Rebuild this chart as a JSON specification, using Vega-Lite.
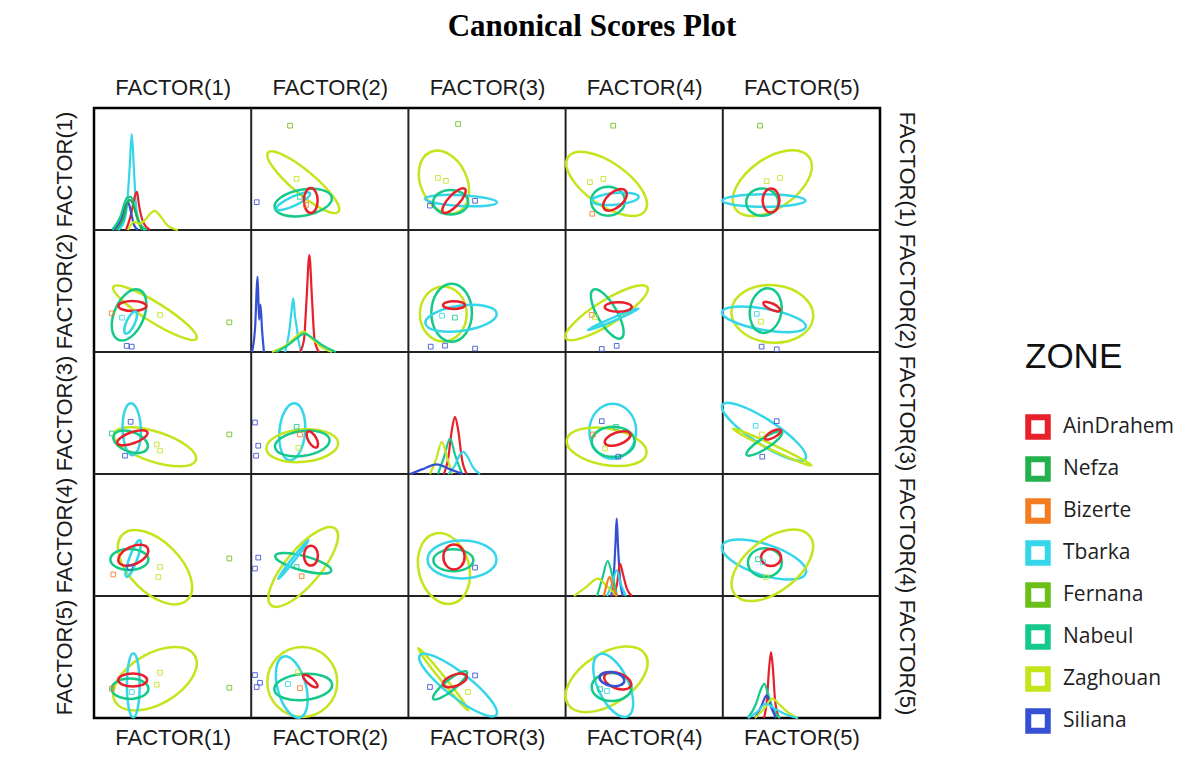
{
  "$schema": "https://vega.github.io/schema/vega-lite/v6.json",
  "width": 786,
  "height": 610,
  "autosize": {"type": "none"},
  "padding": {"left": 94, "top": 108, "right": 307, "bottom": 40},
  "background": "white",
  "title": {"text": "Canonical Scores Plot", "font": "Liberation Serif", "fontSize": 31, "fontWeight": "bold", "color": "#000000", "anchor": "middle", "frame": "group", "dx": 105, "offset": 33},
  "datasets": {
    "grid": [{"v": 1}, {"v": 2}, {"v": 3}, {"v": 4}],
    "dens": [
      {"z": "Tbarka", "g": "11", "x": 0.153, "y": 1.0}, {"z": "Tbarka", "g": "11", "x": 0.191, "y": 0.933}, {"z": "Tbarka", "g": "11", "x": 0.21, "y": 0.794}, {"z": "Tbarka", "g": "11", "x": 0.226, "y": 0.507}, {"z": "Tbarka", "g": "11", "x": 0.24, "y": 0.213}, {"z": "Tbarka", "g": "11", "x": 0.254, "y": 0.507}, {"z": "Tbarka", "g": "11", "x": 0.267, "y": 0.794}, {"z": "Tbarka", "g": "11", "x": 0.286, "y": 0.933}, {"z": "Tbarka", "g": "11", "x": 0.324, "y": 1.0},
      {"z": "AinDrahem", "g": "11", "x": 0.204, "y": 1.0}, {"z": "AinDrahem", "g": "11", "x": 0.235, "y": 0.876}, {"z": "AinDrahem", "g": "11", "x": 0.261, "y": 0.72}, {"z": "AinDrahem", "g": "11", "x": 0.274, "y": 0.687}, {"z": "AinDrahem", "g": "11", "x": 0.286, "y": 0.794}, {"z": "AinDrahem", "g": "11", "x": 0.312, "y": 0.933}, {"z": "AinDrahem", "g": "11", "x": 0.356, "y": 1.0},
      {"z": "Siliana", "g": "11", "x": 0.127, "y": 1.0}, {"z": "Siliana", "g": "11", "x": 0.172, "y": 0.917}, {"z": "Siliana", "g": "11", "x": 0.204, "y": 0.794}, {"z": "Siliana", "g": "11", "x": 0.216, "y": 0.769}, {"z": "Siliana", "g": "11", "x": 0.235, "y": 0.851}, {"z": "Siliana", "g": "11", "x": 0.254, "y": 0.957}, {"z": "Siliana", "g": "11", "x": 0.28, "y": 1.0},
      {"z": "Nabeul", "g": "11", "x": 0.115, "y": 1.0}, {"z": "Nabeul", "g": "11", "x": 0.165, "y": 0.9}, {"z": "Nabeul", "g": "11", "x": 0.21, "y": 0.736}, {"z": "Nabeul", "g": "11", "x": 0.235, "y": 0.728}, {"z": "Nabeul", "g": "11", "x": 0.261, "y": 0.835}, {"z": "Nabeul", "g": "11", "x": 0.293, "y": 0.949}, {"z": "Nabeul", "g": "11", "x": 0.337, "y": 1.0},
      {"z": "Nefza", "g": "11", "x": 0.14, "y": 1.0}, {"z": "Nefza", "g": "11", "x": 0.184, "y": 0.917}, {"z": "Nefza", "g": "11", "x": 0.223, "y": 0.753}, {"z": "Nefza", "g": "11", "x": 0.248, "y": 0.786}, {"z": "Nefza", "g": "11", "x": 0.274, "y": 0.9}, {"z": "Nefza", "g": "11", "x": 0.305, "y": 1.0},
      {"z": "Zaghouan", "g": "11", "x": 0.216, "y": 1.0}, {"z": "Zaghouan", "g": "11", "x": 0.254, "y": 0.933}, {"z": "Zaghouan", "g": "11", "x": 0.293, "y": 0.949}, {"z": "Zaghouan", "g": "11", "x": 0.331, "y": 0.908}, {"z": "Zaghouan", "g": "11", "x": 0.363, "y": 0.859}, {"z": "Zaghouan", "g": "11", "x": 0.388, "y": 0.843}, {"z": "Zaghouan", "g": "11", "x": 0.42, "y": 0.884}, {"z": "Zaghouan", "g": "11", "x": 0.471, "y": 0.966}, {"z": "Zaghouan", "g": "11", "x": 0.534, "y": 1.0},

      {"z": "Siliana", "g": "22", "x": 1.005, "y": 2.0}, {"z": "Siliana", "g": "22", "x": 1.024, "y": 1.817}, {"z": "Siliana", "g": "22", "x": 1.041, "y": 1.383}, {"z": "Siliana", "g": "22", "x": 1.05, "y": 1.735}, {"z": "Siliana", "g": "22", "x": 1.059, "y": 1.612}, {"z": "Siliana", "g": "22", "x": 1.069, "y": 1.817}, {"z": "Siliana", "g": "22", "x": 1.081, "y": 2.0},
      {"z": "Tbarka", "g": "22", "x": 1.215, "y": 2.0}, {"z": "Tbarka", "g": "22", "x": 1.24, "y": 1.85}, {"z": "Tbarka", "g": "22", "x": 1.258, "y": 1.65}, {"z": "Tbarka", "g": "22", "x": 1.268, "y": 1.561}, {"z": "Tbarka", "g": "22", "x": 1.278, "y": 1.7}, {"z": "Tbarka", "g": "22", "x": 1.29, "y": 1.8}, {"z": "Tbarka", "g": "22", "x": 1.3, "y": 1.9}, {"z": "Tbarka", "g": "22", "x": 1.32, "y": 2.0},
      {"z": "AinDrahem", "g": "22", "x": 1.31, "y": 2.0}, {"z": "AinDrahem", "g": "22", "x": 1.336, "y": 1.898}, {"z": "AinDrahem", "g": "22", "x": 1.352, "y": 1.571}, {"z": "AinDrahem", "g": "22", "x": 1.37, "y": 1.205}, {"z": "AinDrahem", "g": "22", "x": 1.387, "y": 1.571}, {"z": "AinDrahem", "g": "22", "x": 1.403, "y": 1.898}, {"z": "AinDrahem", "g": "22", "x": 1.431, "y": 2.0},
      {"z": "Zaghouan", "g": "22", "x": 1.132, "y": 2.0}, {"z": "Zaghouan", "g": "22", "x": 1.215, "y": 1.951}, {"z": "Zaghouan", "g": "22", "x": 1.279, "y": 1.882}, {"z": "Zaghouan", "g": "22", "x": 1.331, "y": 1.833}, {"z": "Zaghouan", "g": "22", "x": 1.38, "y": 1.882}, {"z": "Zaghouan", "g": "22", "x": 1.438, "y": 1.951}, {"z": "Zaghouan", "g": "22", "x": 1.514, "y": 2.0},
      {"z": "Nabeul", "g": "22", "x": 1.158, "y": 2.0}, {"z": "Nabeul", "g": "22", "x": 1.234, "y": 1.943}, {"z": "Nabeul", "g": "22", "x": 1.291, "y": 1.886}, {"z": "Nabeul", "g": "22", "x": 1.336, "y": 1.849}, {"z": "Nabeul", "g": "22", "x": 1.387, "y": 1.882}, {"z": "Nabeul", "g": "22", "x": 1.45, "y": 1.943}, {"z": "Nabeul", "g": "22", "x": 1.539, "y": 2.0},

      {"z": "AinDrahem", "g": "33", "x": 2.226, "y": 3.0}, {"z": "AinDrahem", "g": "33", "x": 2.252, "y": 2.881}, {"z": "AinDrahem", "g": "33", "x": 2.277, "y": 2.635}, {"z": "AinDrahem", "g": "33", "x": 2.296, "y": 2.531}, {"z": "AinDrahem", "g": "33", "x": 2.316, "y": 2.635}, {"z": "AinDrahem", "g": "33", "x": 2.341, "y": 2.881}, {"z": "AinDrahem", "g": "33", "x": 2.373, "y": 3.0},
      {"z": "Nabeul", "g": "33", "x": 2.188, "y": 3.0}, {"z": "Nabeul", "g": "33", "x": 2.226, "y": 2.864}, {"z": "Nabeul", "g": "33", "x": 2.265, "y": 2.709}, {"z": "Nabeul", "g": "33", "x": 2.296, "y": 2.84}, {"z": "Nabeul", "g": "33", "x": 2.341, "y": 3.0},
      {"z": "Zaghouan", "g": "33", "x": 2.137, "y": 3.0}, {"z": "Zaghouan", "g": "33", "x": 2.176, "y": 2.881}, {"z": "Zaghouan", "g": "33", "x": 2.212, "y": 2.736}, {"z": "Zaghouan", "g": "33", "x": 2.246, "y": 2.864}, {"z": "Zaghouan", "g": "33", "x": 2.277, "y": 3.0},
      {"z": "Tbarka", "g": "33", "x": 2.252, "y": 3.0}, {"z": "Tbarka", "g": "33", "x": 2.296, "y": 2.93}, {"z": "Tbarka", "g": "33", "x": 2.328, "y": 2.84}, {"z": "Tbarka", "g": "33", "x": 2.349, "y": 2.818}, {"z": "Tbarka", "g": "33", "x": 2.379, "y": 2.864}, {"z": "Tbarka", "g": "33", "x": 2.411, "y": 2.946}, {"z": "Tbarka", "g": "33", "x": 2.456, "y": 3.0},
      {"z": "Siliana", "g": "33", "x": 2.01, "y": 3.0}, {"z": "Siliana", "g": "33", "x": 2.087, "y": 2.962}, {"z": "Siliana", "g": "33", "x": 2.18, "y": 2.921}, {"z": "Siliana", "g": "33", "x": 2.265, "y": 2.962}, {"z": "Siliana", "g": "33", "x": 2.347, "y": 3.0},

      {"z": "Siliana", "g": "44", "x": 3.289, "y": 4.0}, {"z": "Siliana", "g": "44", "x": 3.305, "y": 3.862}, {"z": "Siliana", "g": "44", "x": 3.317, "y": 3.576}, {"z": "Siliana", "g": "44", "x": 3.325, "y": 3.366}, {"z": "Siliana", "g": "44", "x": 3.333, "y": 3.576}, {"z": "Siliana", "g": "44", "x": 3.346, "y": 3.862}, {"z": "Siliana", "g": "44", "x": 3.365, "y": 4.0},
      {"z": "AinDrahem", "g": "44", "x": 3.308, "y": 4.0}, {"z": "AinDrahem", "g": "44", "x": 3.327, "y": 3.903}, {"z": "AinDrahem", "g": "44", "x": 3.346, "y": 3.734}, {"z": "AinDrahem", "g": "44", "x": 3.365, "y": 3.822}, {"z": "AinDrahem", "g": "44", "x": 3.391, "y": 3.944}, {"z": "AinDrahem", "g": "44", "x": 3.422, "y": 4.0},
      {"z": "Nabeul", "g": "44", "x": 3.2, "y": 4.0}, {"z": "Nabeul", "g": "44", "x": 3.232, "y": 3.862}, {"z": "Nabeul", "g": "44", "x": 3.268, "y": 3.713}, {"z": "Nabeul", "g": "44", "x": 3.295, "y": 3.822}, {"z": "Nabeul", "g": "44", "x": 3.327, "y": 4.0},
      {"z": "Tbarka", "g": "44", "x": 3.263, "y": 4.0}, {"z": "Tbarka", "g": "44", "x": 3.295, "y": 3.903}, {"z": "Tbarka", "g": "44", "x": 3.325, "y": 3.789}, {"z": "Tbarka", "g": "44", "x": 3.352, "y": 3.903}, {"z": "Tbarka", "g": "44", "x": 3.384, "y": 4.0},
      {"z": "Zaghouan", "g": "44", "x": 3.053, "y": 4.0}, {"z": "Zaghouan", "g": "44", "x": 3.13, "y": 3.927}, {"z": "Zaghouan", "g": "44", "x": 3.206, "y": 3.857}, {"z": "Zaghouan", "g": "44", "x": 3.257, "y": 3.912}, {"z": "Zaghouan", "g": "44", "x": 3.327, "y": 4.0},
      {"z": "Bizerte", "g": "44", "x": 3.244, "y": 4.0}, {"z": "Bizerte", "g": "44", "x": 3.257, "y": 3.927}, {"z": "Bizerte", "g": "44", "x": 3.281, "y": 3.844}, {"z": "Bizerte", "g": "44", "x": 3.302, "y": 3.927}, {"z": "Bizerte", "g": "44", "x": 3.327, "y": 4.0},

      {"z": "AinDrahem", "g": "55", "x": 4.262, "y": 5.0}, {"z": "AinDrahem", "g": "55", "x": 4.281, "y": 4.845}, {"z": "AinDrahem", "g": "55", "x": 4.294, "y": 4.599}, {"z": "AinDrahem", "g": "55", "x": 4.307, "y": 4.46}, {"z": "AinDrahem", "g": "55", "x": 4.319, "y": 4.599}, {"z": "AinDrahem", "g": "55", "x": 4.332, "y": 4.845}, {"z": "AinDrahem", "g": "55", "x": 4.357, "y": 5.0},
      {"z": "Nabeul", "g": "55", "x": 4.16, "y": 5.0}, {"z": "Nabeul", "g": "55", "x": 4.211, "y": 4.885}, {"z": "Nabeul", "g": "55", "x": 4.243, "y": 4.763}, {"z": "Nabeul", "g": "55", "x": 4.264, "y": 4.719}, {"z": "Nabeul", "g": "55", "x": 4.288, "y": 4.804}, {"z": "Nabeul", "g": "55", "x": 4.319, "y": 4.926}, {"z": "Nabeul", "g": "55", "x": 4.364, "y": 5.0},
      {"z": "Siliana", "g": "55", "x": 4.205, "y": 5.0}, {"z": "Siliana", "g": "55", "x": 4.243, "y": 4.91}, {"z": "Siliana", "g": "55", "x": 4.279, "y": 4.814}, {"z": "Siliana", "g": "55", "x": 4.307, "y": 4.91}, {"z": "Siliana", "g": "55", "x": 4.338, "y": 5.0},
      {"z": "Zaghouan", "g": "55", "x": 4.205, "y": 5.0}, {"z": "Zaghouan", "g": "55", "x": 4.262, "y": 4.926}, {"z": "Zaghouan", "g": "55", "x": 4.315, "y": 4.842}, {"z": "Zaghouan", "g": "55", "x": 4.364, "y": 4.894}, {"z": "Zaghouan", "g": "55", "x": 4.427, "y": 4.967}, {"z": "Zaghouan", "g": "55", "x": 4.478, "y": 5.0},
      {"z": "Tbarka", "g": "55", "x": 4.16, "y": 5.0}, {"z": "Tbarka", "g": "55", "x": 4.224, "y": 4.943}, {"z": "Tbarka", "g": "55", "x": 4.275, "y": 4.883}, {"z": "Tbarka", "g": "55", "x": 4.332, "y": 4.926}, {"z": "Tbarka", "g": "55", "x": 4.427, "y": 4.984}, {"z": "Tbarka", "g": "55", "x": 4.478, "y": 5.0}
    ],
    "ell": [
      {"z": "Zaghouan", "x": 1.331, "y": 0.608, "len": 0.585, "f": "f25", "a": 40},
      {"z": "Nabeul", "x": 1.331, "y": 0.775, "len": 0.369, "f": "f45", "a": 170},
      {"z": "Tbarka", "x": 1.268, "y": 0.764, "len": 0.235, "f": "f25", "a": 155},
      {"z": "AinDrahem", "x": 1.379, "y": 0.759, "len": 0.159, "f": "f55", "a": 90},
      {"z": "Zaghouan", "x": 2.226, "y": 0.608, "len": 0.42, "f": "f70", "a": 65},
      {"z": "Tbarka", "x": 2.335, "y": 0.759, "len": 0.458, "f": "f15", "a": 3},
      {"z": "Nabeul", "x": 2.269, "y": 0.772, "len": 0.223, "f": "f70", "a": 0},
      {"z": "AinDrahem", "x": 2.29, "y": 0.759, "len": 0.204, "f": "f35", "a": 133},
      {"z": "Zaghouan", "x": 3.261, "y": 0.622, "len": 0.598, "f": "f45", "a": 35},
      {"z": "Nabeul", "x": 3.27, "y": 0.764, "len": 0.216, "f": "f85", "a": 0},
      {"z": "Tbarka", "x": 3.316, "y": 0.745, "len": 0.299, "f": "f25", "a": 175},
      {"z": "AinDrahem", "x": 3.314, "y": 0.753, "len": 0.178, "f": "f55", "a": 140},
      {"z": "Zaghouan", "x": 4.315, "y": 0.616, "len": 0.573, "f": "f55", "a": 145},
      {"z": "Tbarka", "x": 4.262, "y": 0.759, "len": 0.528, "f": "f15", "a": 0},
      {"z": "Nabeul", "x": 4.251, "y": 0.772, "len": 0.204, "f": "f85", "a": 0},
      {"z": "AinDrahem", "x": 4.307, "y": 0.759, "len": 0.153, "f": "f70", "a": 90},
      {"z": "Zaghouan", "x": 0.388, "y": 1.678, "len": 0.623, "f": "f20", "a": 32},
      {"z": "Nabeul", "x": 0.223, "y": 1.696, "len": 0.344, "f": "f55", "a": 113},
      {"z": "AinDrahem", "x": 0.244, "y": 1.623, "len": 0.178, "f": "f35", "a": 0},
      {"z": "Tbarka", "x": 0.233, "y": 1.759, "len": 0.153, "f": "f35", "a": 115},
      {"z": "Zaghouan", "x": 2.222, "y": 1.688, "len": 0.35, "f": "f85", "a": 90},
      {"z": "Nabeul", "x": 2.275, "y": 1.678, "len": 0.369, "f": "f70", "a": 90},
      {"z": "Tbarka", "x": 2.335, "y": 1.724, "len": 0.458, "f": "f35", "a": 172},
      {"z": "AinDrahem", "x": 2.29, "y": 1.615, "len": 0.14, "f": "f35", "a": 0},
      {"z": "Zaghouan", "x": 3.261, "y": 1.678, "len": 0.611, "f": "f25", "a": 148},
      {"z": "Nabeul", "x": 3.265, "y": 1.688, "len": 0.356, "f": "f35", "a": 60},
      {"z": "Tbarka", "x": 3.303, "y": 1.732, "len": 0.35, "f": "f05", "a": 157},
      {"z": "AinDrahem", "x": 3.335, "y": 1.631, "len": 0.172, "f": "f35", "a": 0},
      {"z": "Zaghouan", "x": 4.315, "y": 1.688, "len": 0.522, "f": "f70", "a": 5},
      {"z": "Tbarka", "x": 4.262, "y": 1.732, "len": 0.541, "f": "f25", "a": 10},
      {"z": "Nabeul", "x": 4.273, "y": 1.661, "len": 0.286, "f": "f70", "a": 100},
      {"z": "AinDrahem", "x": 4.311, "y": 1.628, "len": 0.115, "f": "f35", "a": 25},
      {"z": "Zaghouan", "x": 0.388, "y": 2.777, "len": 0.547, "f": "f35", "a": 18},
      {"z": "Tbarka", "x": 0.24, "y": 2.633, "len": 0.331, "f": "f35", "a": 88},
      {"z": "Nabeul", "x": 0.233, "y": 2.736, "len": 0.229, "f": "f55", "a": 20},
      {"z": "AinDrahem", "x": 0.244, "y": 2.703, "len": 0.204, "f": "f35", "a": 160},
      {"z": "Tbarka", "x": 1.261, "y": 2.654, "len": 0.363, "f": "f45", "a": 95},
      {"z": "Zaghouan", "x": 1.325, "y": 2.768, "len": 0.458, "f": "f45", "a": 175},
      {"z": "Nabeul", "x": 1.325, "y": 2.75, "len": 0.35, "f": "f45", "a": 172},
      {"z": "AinDrahem", "x": 1.389, "y": 2.717, "len": 0.115, "f": "f45", "a": 60},
      {"z": "Tbarka", "x": 3.3, "y": 2.649, "len": 0.35, "f": "f85", "a": 90},
      {"z": "Zaghouan", "x": 3.261, "y": 2.777, "len": 0.515, "f": "f45", "a": 10},
      {"z": "Nabeul", "x": 3.303, "y": 2.736, "len": 0.274, "f": "f70", "a": 0},
      {"z": "AinDrahem", "x": 3.331, "y": 2.709, "len": 0.172, "f": "f45", "a": 160},
      {"z": "Tbarka", "x": 4.262, "y": 2.654, "len": 0.63, "f": "f25", "a": 33},
      {"z": "Zaghouan", "x": 4.315, "y": 2.78, "len": 0.553, "f": "f05", "a": 25},
      {"z": "Nabeul", "x": 4.264, "y": 2.75, "len": 0.267, "f": "f25", "a": 147},
      {"z": "AinDrahem", "x": 4.319, "y": 2.676, "len": 0.115, "f": "f35", "a": 152},
      {"z": "Zaghouan", "x": 0.388, "y": 3.764, "len": 0.585, "f": "f55", "a": 45},
      {"z": "Tbarka", "x": 0.25, "y": 3.693, "len": 0.248, "f": "f20", "a": 110},
      {"z": "Nabeul", "x": 0.225, "y": 3.701, "len": 0.242, "f": "f55", "a": 0},
      {"z": "AinDrahem", "x": 0.25, "y": 3.666, "len": 0.204, "f": "f55", "a": 155},
      {"z": "Zaghouan", "x": 1.331, "y": 3.762, "len": 0.636, "f": "f35", "a": 130},
      {"z": "Nabeul", "x": 1.331, "y": 3.732, "len": 0.369, "f": "f25", "a": 15},
      {"z": "Tbarka", "x": 1.268, "y": 3.701, "len": 0.312, "f": "f05", "a": 128},
      {"z": "AinDrahem", "x": 1.38, "y": 3.669, "len": 0.127, "f": "f70", "a": 90},
      {"z": "Zaghouan", "x": 2.226, "y": 3.775, "len": 0.458, "f": "f70", "a": 75},
      {"z": "Tbarka", "x": 2.341, "y": 3.701, "len": 0.439, "f": "f55", "a": 0},
      {"z": "Nabeul", "x": 2.286, "y": 3.707, "len": 0.254, "f": "f55", "a": 0},
      {"z": "AinDrahem", "x": 2.29, "y": 3.68, "len": 0.159, "f": "f85", "a": 90},
      {"z": "Tbarka", "x": 4.262, "y": 3.701, "len": 0.56, "f": "f35", "a": 18},
      {"z": "Zaghouan", "x": 4.315, "y": 3.748, "len": 0.604, "f": "f55", "a": 142},
      {"z": "Nabeul", "x": 4.268, "y": 3.726, "len": 0.216, "f": "f85", "a": 0},
      {"z": "AinDrahem", "x": 4.307, "y": 3.685, "len": 0.127, "f": "f85", "a": 0},
      {"z": "Zaghouan", "x": 0.388, "y": 4.678, "len": 0.585, "f": "f55", "a": 150},
      {"z": "Tbarka", "x": 0.25, "y": 4.732, "len": 0.407, "f": "f20", "a": 90},
      {"z": "Nabeul", "x": 0.229, "y": 4.76, "len": 0.235, "f": "f55", "a": 0},
      {"z": "AinDrahem", "x": 0.246, "y": 4.689, "len": 0.184, "f": "f45", "a": 0},
      {"z": "Zaghouan", "x": 1.325, "y": 4.705, "len": 0.445, "f": "f100", "a": 0},
      {"z": "Tbarka", "x": 1.258, "y": 4.746, "len": 0.401, "f": "f45", "a": 75},
      {"z": "Nabeul", "x": 1.331, "y": 4.746, "len": 0.369, "f": "f45", "a": 175},
      {"z": "AinDrahem", "x": 1.376, "y": 4.697, "len": 0.115, "f": "f35", "a": 40},
      {"z": "Zaghouan", "x": 2.222, "y": 4.683, "len": 0.509, "f": "f05", "a": 51},
      {"z": "Tbarka", "x": 2.316, "y": 4.73, "len": 0.617, "f": "f25", "a": 38},
      {"z": "Nabeul", "x": 2.265, "y": 4.733, "len": 0.274, "f": "f25", "a": 141},
      {"z": "AinDrahem", "x": 2.296, "y": 4.692, "len": 0.159, "f": "f45", "a": 160},
      {"z": "Zaghouan", "x": 3.261, "y": 4.683, "len": 0.585, "f": "f55", "a": 147},
      {"z": "Tbarka", "x": 3.303, "y": 4.733, "len": 0.433, "f": "f45", "a": 65},
      {"z": "Nabeul", "x": 3.293, "y": 4.746, "len": 0.254, "f": "f70", "a": 0},
      {"z": "AinDrahem", "x": 3.331, "y": 4.695, "len": 0.178, "f": "f55", "a": 20},
      {"z": "Siliana", "x": 3.295, "y": 4.681, "len": 0.159, "f": "f55", "a": 10}
    ],
    "pts": [
      {"z": "Fernana", "x": 1.247, "y": 0.145}, {"z": "Zaghouan", "x": 1.289, "y": 0.581}, {"z": "Siliana", "x": 1.035, "y": 0.772}, {"z": "Nabeul", "x": 1.31, "y": 0.728}, {"z": "Bizerte", "x": 1.349, "y": 0.794},
      {"z": "Zaghouan", "x": 2.188, "y": 0.573}, {"z": "Zaghouan", "x": 2.239, "y": 0.597}, {"z": "Siliana", "x": 2.137, "y": 0.8}, {"z": "Siliana", "x": 2.424, "y": 0.761}, {"z": "Fernana", "x": 2.316, "y": 0.131},
      {"z": "Fernana", "x": 3.303, "y": 0.145}, {"z": "Zaghouan", "x": 3.155, "y": 0.608}, {"z": "Zaghouan", "x": 3.24, "y": 0.581}, {"z": "Bizerte", "x": 3.17, "y": 0.867},
      {"z": "Fernana", "x": 4.237, "y": 0.145}, {"z": "Zaghouan", "x": 4.279, "y": 0.6}, {"z": "Zaghouan", "x": 4.364, "y": 0.573},
      {"z": "Zaghouan", "x": 0.42, "y": 1.696}, {"z": "Fernana", "x": 0.861, "y": 1.757}, {"z": "Siliana", "x": 0.208, "y": 1.95}, {"z": "Siliana", "x": 0.24, "y": 1.956}, {"z": "Bizerte", "x": 0.113, "y": 1.683}, {"z": "Tbarka", "x": 0.178, "y": 1.718},
      {"z": "Siliana", "x": 2.142, "y": 1.956}, {"z": "Siliana", "x": 2.233, "y": 1.948}, {"z": "Siliana", "x": 2.424, "y": 1.972}, {"z": "Tbarka", "x": 2.214, "y": 1.702}, {"z": "Nabeul", "x": 2.296, "y": 1.718},
      {"z": "Siliana", "x": 3.23, "y": 1.975}, {"z": "Siliana", "x": 3.325, "y": 1.95}, {"z": "Bizerte", "x": 3.166, "y": 1.696}, {"z": "Zaghouan", "x": 3.187, "y": 1.716},
      {"z": "Siliana", "x": 4.247, "y": 1.956}, {"z": "Siliana", "x": 4.343, "y": 1.978}, {"z": "Tbarka", "x": 4.216, "y": 1.688}, {"z": "Zaghouan", "x": 4.243, "y": 1.751},
      {"z": "Siliana", "x": 0.233, "y": 2.572}, {"z": "Siliana", "x": 0.197, "y": 2.85}, {"z": "Fernana", "x": 0.861, "y": 2.676}, {"z": "Zaghouan", "x": 0.399, "y": 2.758}, {"z": "Zaghouan", "x": 0.42, "y": 2.809}, {"z": "Nabeul", "x": 0.113, "y": 2.668},
      {"z": "Siliana", "x": 1.024, "y": 2.578}, {"z": "Siliana", "x": 1.045, "y": 2.768}, {"z": "Siliana", "x": 1.031, "y": 2.85}, {"z": "Nabeul", "x": 1.289, "y": 2.613}, {"z": "Zaghouan", "x": 1.3, "y": 2.785}, {"z": "Bizerte", "x": 1.31, "y": 2.676},
      {"z": "Siliana", "x": 3.23, "y": 2.567}, {"z": "Siliana", "x": 3.335, "y": 2.858}, {"z": "Nabeul", "x": 3.321, "y": 2.613}, {"z": "Zaghouan", "x": 3.251, "y": 2.791}, {"z": "Bizerte", "x": 3.174, "y": 2.676},
      {"z": "Siliana", "x": 4.343, "y": 2.567}, {"z": "Siliana", "x": 4.251, "y": 2.858}, {"z": "Tbarka", "x": 4.209, "y": 2.605}, {"z": "Zaghouan", "x": 4.248, "y": 2.676},
      {"z": "Fernana", "x": 0.861, "y": 3.693}, {"z": "Zaghouan", "x": 0.42, "y": 3.762}, {"z": "Zaghouan", "x": 0.409, "y": 3.844}, {"z": "Bizerte", "x": 0.123, "y": 3.824}, {"z": "Siliana", "x": 0.229, "y": 3.767},
      {"z": "Siliana", "x": 1.045, "y": 3.685}, {"z": "Siliana", "x": 1.024, "y": 3.775}, {"z": "Bizerte", "x": 1.321, "y": 3.838}, {"z": "Nabeul", "x": 1.289, "y": 3.762},
      {"z": "Siliana", "x": 2.424, "y": 3.767},
      {"z": "Nabeul", "x": 4.224, "y": 3.699}, {"z": "Tbarka", "x": 4.256, "y": 3.723}, {"z": "Zaghouan", "x": 4.275, "y": 3.846},
      {"z": "Fernana", "x": 0.861, "y": 4.752}, {"z": "Zaghouan", "x": 0.42, "y": 4.629}, {"z": "Zaghouan", "x": 0.399, "y": 4.727}, {"z": "Bizerte", "x": 0.113, "y": 4.76}, {"z": "Tbarka", "x": 0.24, "y": 4.787},
      {"z": "Siliana", "x": 1.024, "y": 4.648}, {"z": "Siliana", "x": 1.056, "y": 4.711}, {"z": "Siliana", "x": 1.035, "y": 4.746}, {"z": "Tbarka", "x": 1.234, "y": 4.722}, {"z": "Bizerte", "x": 1.31, "y": 4.755}, {"z": "Zaghouan", "x": 1.298, "y": 4.624},
      {"z": "Siliana", "x": 2.424, "y": 4.651}, {"z": "Siliana", "x": 2.137, "y": 4.746}, {"z": "Zaghouan", "x": 2.379, "y": 4.787},
      {"z": "Nabeul", "x": 3.219, "y": 4.763}, {"z": "Tbarka", "x": 3.263, "y": 4.779}
    ]
  },
  "layer": [
    {
      "data": {"name": "grid"},
      "mark": {"type": "rule", "color": "#222222", "strokeWidth": 2},
      "encoding": {
        "x": {"field": "v", "type": "quantitative", "scale": {"domain": [0, 5], "nice": false, "zero": false},
          "axis": {"orient": "top", "values": [0.5, 1.5, 2.5, 3.5, 4.5], "labelExpr": "'FACTOR(' + (datum.value + 0.5) + ')'", "ticks": false, "domain": false, "grid": false, "title": null, "labelFont": "Liberation Sans", "labelFontSize": 22, "labelColor": "#1a1a1a", "labelPadding": 9, "labelFlush": false, "labelOverlap": false}}
      }
    },
    {
      "data": {"name": "grid"},
      "mark": {"type": "rule", "color": "#222222", "strokeWidth": 2},
      "encoding": {
        "y": {"field": "v", "type": "quantitative", "scale": {"domain": [0, 5], "nice": false, "zero": false, "reverse": true},
          "axis": {"orient": "left", "values": [0.5, 1.5, 2.5, 3.5, 4.5], "labelExpr": "'FACTOR(' + (datum.value + 0.5) + ')'", "labelAngle": 270, "labelAlign": "center", "labelBaseline": "bottom", "ticks": false, "domain": false, "grid": false, "title": null, "labelFont": "Liberation Sans", "labelFontSize": 22, "labelColor": "#1a1a1a", "labelPadding": 18, "labelFlush": false, "labelOverlap": false}}
      }
    },
    {
      "data": {"name": "dens"},
      "mark": {"type": "line", "strokeWidth": 2.2, "interpolate": "monotone", "opacity": 1},
      "encoding": {
        "x": {"field": "x", "type": "quantitative", "scale": {"domain": [0, 5], "nice": false, "zero": false}, "axis": null},
        "y": {"field": "y", "type": "quantitative", "scale": {"domain": [0, 5], "nice": false, "zero": false, "reverse": true}, "axis": null},
        "color": {"field": "z", "type": "nominal", "scale": {"domain": ["AinDrahem", "Nefza", "Bizerte", "Tbarka", "Fernana", "Nabeul", "Zaghouan", "Siliana"], "range": ["#e8202a", "#22b14c", "#f47c20", "#35d6ea", "#6cbf18", "#14c98a", "#c4e41c", "#3650d4"]}},
        "detail": {"field": "g", "type": "nominal"}
      }
    },
    {
      "data": {"name": "ell"},
      "mark": {"type": "point", "filled": false, "strokeWidth": 2.5, "opacity": 1},
      "encoding": {
        "x": {"field": "x", "type": "quantitative", "scale": {"domain": [0, 5], "nice": false, "zero": false}, "axis": null},
        "y": {"field": "y", "type": "quantitative", "scale": {"domain": [0, 5], "nice": false, "zero": false, "reverse": true}, "axis": null},
        "color": {"field": "z", "type": "nominal"},
        "size": {"field": "len", "type": "quantitative", "scale": {"type": "pow", "exponent": 2, "domain": [0, 1], "range": [0, 24712]}, "legend": null},
        "angle": {"field": "a", "type": "quantitative", "scale": {"domain": [0, 360], "range": [0, 360]}},
        "shape": {"field": "f", "type": "nominal", "legend": null, "scale": {
          "domain": ["f100", "f85", "f70", "f55", "f45", "f35", "f25", "f20", "f15", "f05"],
          "range": [
            "M-1,0C-1,-0.552 -0.552,-1 0,-1C0.552,-1 1,-0.552 1,0C1,0.552 0.552,1 0,1C-0.552,1 -1,0.552 -1,0Z",
            "M-1,0C-1,-0.469 -0.552,-0.85 0,-0.85C0.552,-0.85 1,-0.469 1,0C1,0.469 0.552,0.85 0,0.85C-0.552,0.85 -1,0.469 -1,0Z",
            "M-1,0C-1,-0.386 -0.552,-0.7 0,-0.7C0.552,-0.7 1,-0.386 1,0C1,0.386 0.552,0.7 0,0.7C-0.552,0.7 -1,0.386 -1,0Z",
            "M-1,0C-1,-0.304 -0.552,-0.55 0,-0.55C0.552,-0.55 1,-0.304 1,0C1,0.304 0.552,0.55 0,0.55C-0.552,0.55 -1,0.304 -1,0Z",
            "M-1,0C-1,-0.248 -0.552,-0.45 0,-0.45C0.552,-0.45 1,-0.248 1,0C1,0.248 0.552,0.45 0,0.45C-0.552,0.45 -1,0.248 -1,0Z",
            "M-1,0C-1,-0.193 -0.552,-0.35 0,-0.35C0.552,-0.35 1,-0.193 1,0C1,0.193 0.552,0.35 0,0.35C-0.552,0.35 -1,0.193 -1,0Z",
            "M-1,0C-1,-0.138 -0.552,-0.25 0,-0.25C0.552,-0.25 1,-0.138 1,0C1,0.138 0.552,0.25 0,0.25C-0.552,0.25 -1,0.138 -1,0Z",
            "M-1,0C-1,-0.11 -0.552,-0.2 0,-0.2C0.552,-0.2 1,-0.11 1,0C1,0.11 0.552,0.2 0,0.2C-0.552,0.2 -1,0.11 -1,0Z",
            "M-1,0C-1,-0.083 -0.552,-0.15 0,-0.15C0.552,-0.15 1,-0.083 1,0C1,0.083 0.552,0.15 0,0.15C-0.552,0.15 -1,0.083 -1,0Z",
            "M-1,0C-1,-0.033 -0.552,-0.06 0,-0.06C0.552,-0.06 1,-0.033 1,0C1,0.033 0.552,0.06 0,0.06C-0.552,0.06 -1,0.033 -1,0Z"
          ]}}
      }
    },
    {
      "data": {"name": "pts"},
      "mark": {"type": "point", "shape": "square", "filled": false, "size": 22, "strokeWidth": 1, "opacity": 0.85},
      "encoding": {
        "x": {"field": "x", "type": "quantitative", "scale": {"domain": [0, 5], "nice": false, "zero": false},
          "axis": {"orient": "bottom", "values": [0.5, 1.5, 2.5, 3.5, 4.5], "labelExpr": "'FACTOR(' + (datum.value + 0.5) + ')'", "ticks": false, "domain": false, "grid": false, "title": null, "labelFont": "Liberation Sans", "labelFontSize": 22, "labelColor": "#1a1a1a", "labelPadding": 9, "labelFlush": false, "labelOverlap": false}},
        "y": {"field": "y", "type": "quantitative", "scale": {"domain": [0, 5], "nice": false, "zero": false, "reverse": true},
          "axis": {"orient": "right", "values": [0.5, 1.5, 2.5, 3.5, 4.5], "labelExpr": "'FACTOR(' + (datum.value + 0.5) + ')'", "labelAngle": 90, "labelAlign": "center", "labelBaseline": "bottom", "ticks": false, "domain": false, "grid": false, "title": null, "labelFont": "Liberation Sans", "labelFontSize": 22, "labelColor": "#1a1a1a", "labelPadding": 14, "labelFlush": false, "labelOverlap": false}},
        "color": {"field": "z", "type": "nominal",
          "legend": {"title": "ZONE", "orient": "none", "legendX": 931, "legendY": 232, "padding": 0, "titleFont": "Liberation Sans", "titleFontSize": 35, "titleFontWeight": "normal", "titleColor": "#111111", "titlePadding": 39, "labelFont": "Open Sans", "labelFontSize": 21, "labelColor": "#222222", "labelOffset": 12, "labelLimit": 400, "symbolType": "square", "symbolSize": 380, "symbolStrokeWidth": 6, "symbolOpacity": 1, "symbolFillColor": "white", "rowPadding": -2}}
      }
    }
  ],
  "resolve": {"axis": {"x": "independent", "y": "independent"}},
  "config": {
    "view": {"stroke": "black", "strokeWidth": 2.5},
    "axis": {"grid": false}
  }
}
